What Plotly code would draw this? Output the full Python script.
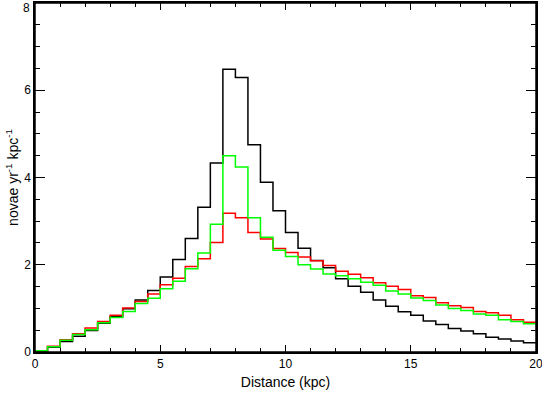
import numpy as np
import plotly.graph_objects as go

# bin edges (kpc), 0.5 kpc bins
edges = np.arange(0, 20.5, 0.5)

black = [0.03, 0.11, 0.24, 0.36, 0.49, 0.66, 0.81, 0.99, 1.19, 1.41,
         1.72, 2.12, 2.60, 3.32, 4.33, 6.48, 6.29, 4.75, 3.89, 3.24,
         2.74, 2.38, 2.10, 1.93, 1.68, 1.51, 1.37, 1.19, 1.05, 0.92,
         0.84, 0.71, 0.63, 0.54, 0.48, 0.42, 0.34, 0.30, 0.25, 0.21]
red = [0.03, 0.13, 0.28, 0.42, 0.55, 0.70, 0.84, 1.01, 1.16, 1.33,
       1.54, 1.69, 1.96, 2.14, 2.51, 3.18, 3.08, 2.74, 2.59, 2.37,
       2.28, 2.18, 2.09, 1.98, 1.85, 1.78, 1.70, 1.59, 1.51, 1.43,
       1.29, 1.25, 1.13, 1.06, 1.02, 0.93, 0.90, 0.84, 0.74, 0.68]
green = [0.03, 0.12, 0.27, 0.40, 0.51, 0.67, 0.79, 0.93, 1.11, 1.23,
         1.45, 1.62, 1.91, 2.27, 2.93, 4.50, 4.24, 3.08, 2.63, 2.33,
         2.19, 2.00, 1.90, 1.79, 1.75, 1.68, 1.60, 1.53, 1.40, 1.33,
         1.24, 1.18, 1.08, 1.00, 0.95, 0.87, 0.84, 0.74, 0.70, 0.65]

xticks = [0, 5, 10, 15, 20]
yticks = [0, 2, 4, 6, 8]

fig = go.Figure()
for vals, col in [(black, "black"), (red, "#ff0000"), (green, "#00ff00")]:
    fig.add_trace(go.Scatter(x=edges, y=vals + [vals[-1]], mode="lines",
                             line=dict(color=col, width=1.5, shape="hv"),
                             showlegend=False))

font = dict(family="Liberation Sans, Arial, sans-serif", size=12, color="black")
fig.update_layout(
    width=542, height=393,
    margin=dict(l=35, r=6, t=3, b=41, autoexpand=False),
    plot_bgcolor="white", paper_bgcolor="white",
    font=font,
)
# box around the plot area
fig.add_shape(type="rect", xref="paper", yref="paper", x0=0, y0=0, x1=1, y1=1,
              line=dict(color="black", width=1.5), layer="above")
# top y label would be cut by the page edge, so it is pushed down like the original
fig.add_annotation(text=str(yticks[-1]), xref="paper", yref="y", x=0, y=yticks[-1],
                   xanchor="right", yanchor="top", xshift=-3, yshift=4,
                   showarrow=False, font=font)
fig.update_xaxes(
    range=[0, 20], tickvals=xticks, ticks="inside", ticklen=7,
    tickcolor="black", showline=True, linecolor="black", linewidth=1.5,
    mirror="ticks", showgrid=False, zeroline=False, automargin=False,
    ticklabeloverflow="allow",
    minor=dict(dtick=1, ticks="inside", ticklen=4, tickcolor="black"),
    title=dict(text="Distance (kpc)", standoff=7),
)
fig.update_yaxes(
    range=[0, 8], tickvals=yticks,
    ticktext=[str(v) for v in yticks[:-1]] + [""],
    ticks="inside", ticklen=10,
    tickcolor="black", showline=True, linecolor="black", linewidth=1.5,
    mirror="ticks", showgrid=False, zeroline=False, automargin=False,
    ticklabeloverflow="allow",
    minor=dict(dtick=0.5, ticks="inside", ticklen=5, tickcolor="black"),
    title=dict(text="novae yr<sup>-1</sup> kpc<sup>-1</sup>", standoff=2),
)

# page body has a default 8px margin; drop it so the figure sits at the corner
fig.write_html("out.html", config={"displayModeBar": False},
               post_script="document.body.style.margin='0';")
